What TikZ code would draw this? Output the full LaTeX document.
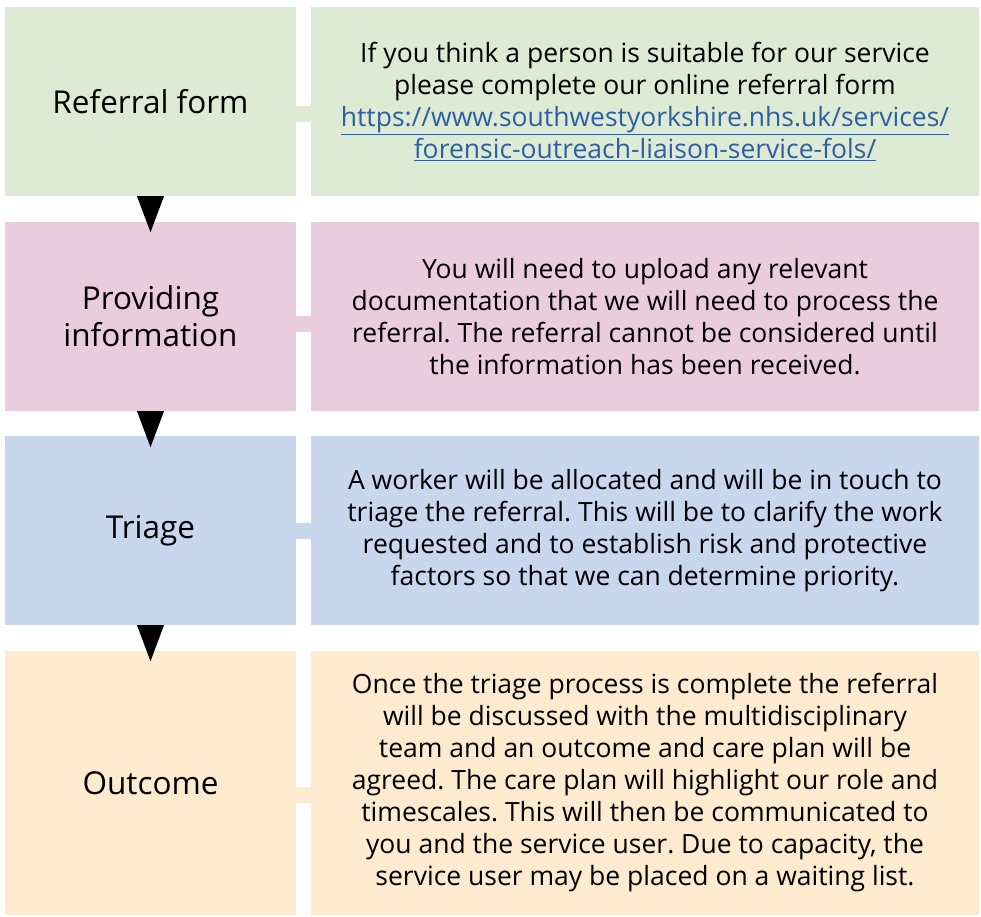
\documentclass[tikz,border=0pt]{standalone}
\usepackage{fontspec}
\setmainfont{Open Sans}
\usepackage{xcolor}
\usepackage{tikz}
\usetikzlibrary{arrows.meta, positioning}
\frenchspacing

\definecolor{refgreen}{RGB}{221,235,213}
\definecolor{infopink}{RGB}{234,205,221}
\definecolor{triblue}{RGB}{200,214,238}
\definecolor{outorange}{RGB}{253,235,207}
\definecolor{linkblue}{RGB}{46,95,165}
\newcommand{\weblink}[1]{\textcolor{linkblue}{\underline{#1}}}

\begin{document}
\begin{tikzpicture}[x=1pt, y=-1pt,
    stage/.style={rectangle, minimum width=291pt, inner sep=0pt, align=center,
                  font=\fontsize{31.5}{37}\selectfont},
    detail/.style={rectangle, minimum width=668pt, inner sep=0pt, align=center,
                   font=\fontsize{26.5}{32}\selectfont},
    bar/.style={line width=16pt},
    arr/.style={-{Triangle[length=36pt, width=27pt]}, line width=0pt}
]
\useasboundingbox (0,0) rectangle (981,916);

% left column
\node[stage, fill=refgreen,   minimum height=189pt] (ref)     at (150.5,101.5) {Referral form};
\node[stage, fill=infopink,   minimum height=189pt] (info)    at (150.5,316.5) {Providing\\information};
\node[stage, fill=triblue,    minimum height=189pt] (triage)  at (150.5,530.5) {Triage};
\node[stage, fill=outorange,  minimum height=264pt] (outcome) at (150.5,783)   {Outcome};

% right column
\node[detail, fill=refgreen,  minimum height=189pt] (refT) at (645,101.5)
    {If you think a person is suitable for our service\\
     please complete our online referral form\\
     \weblink{https://www.southwestyorkshire.nhs.uk/services/}\\
     \weblink{forensic-outreach-liaison-service-fols/}};
\node[detail, fill=infopink,  minimum height=189pt] (infoT) at (645,316.5)
    {You will need to upload any relevant\\
     documentation that we will need to process the\\
     referral. The referral cannot be considered until\\
     the information has been received.};
\node[detail, fill=triblue,   minimum height=189pt] (triageT) at (645,530.5)
    {A worker will be allocated and will be in touch to\\
     triage the referral. This will be to clarify the work\\
     requested and to establish risk and protective\\
     factors so that we can determine priority.};
\node[detail, fill=outorange, minimum height=264pt] (outcomeT) at (645,783)
    {Once the triage process is complete the referral\\
     will be discussed with the multidisciplinary\\
     team and an outcome and care plan will be\\
     agreed. The care plan will highlight our role and\\
     timescales. This will then be communicated to\\
     you and the service user. Due to capacity, the\\
     service user may be placed on a waiting list.};

% links between columns
\draw[bar, refgreen]  ([yshift=-12.5pt]ref.east)   -- ([yshift=-12.5pt]refT.west);
\draw[bar, infopink]  ([yshift=-7pt]info.east)     -- ([yshift=-7pt]infoT.west);
\draw[bar, triblue]   ([yshift=-0.5pt]triage.east) -- ([yshift=-0.5pt]triageT.west);
\draw[bar, outorange] ([yshift=-12pt]outcome.east) -- ([yshift=-12pt]outcomeT.west);

% down arrows
\draw[arr] (ref.south)    -- ([yshift=-36pt]ref.south);
\draw[arr] (info.south)   -- ([yshift=-36pt]info.south);
\draw[arr] (triage.south) -- ([yshift=-36pt]triage.south);
\end{tikzpicture}
\end{document}
